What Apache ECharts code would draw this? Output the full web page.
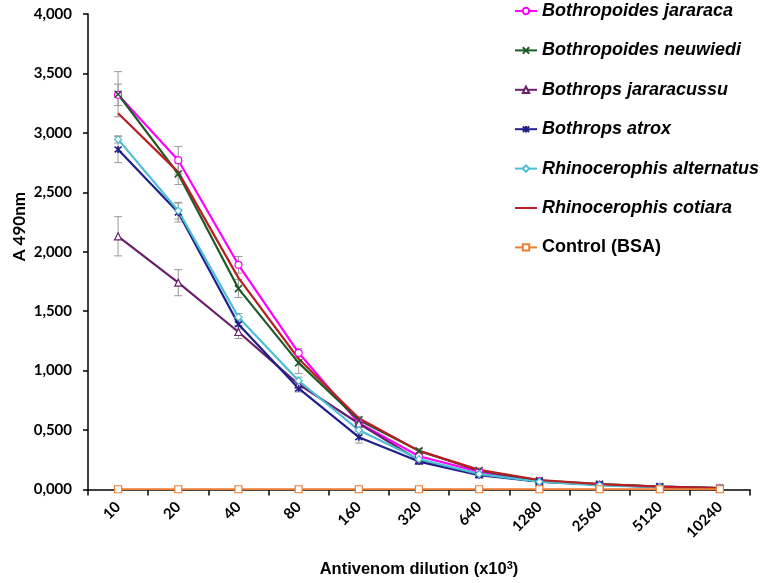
<!DOCTYPE html>
<html>
<head>
<meta charset="utf-8">
<script src="https://cdn.jsdelivr.net/npm/echarts@6/dist/echarts.min.js"></script>
<style>html,body{margin:0;padding:0;background:#fff}#c{width:762px;height:583px}</style>
</head>
<body>
<div id="c"></div>
<script>
const categories = ['10','20','40','80','160','320','640','1280','2560','5120','10240'];
const yTicks = [0, 0.5, 1, 1.5, 2, 2.5, 3, 3.5, 4];

const jararaca    = [3.320, 2.770, 1.890, 1.150, 0.560, 0.280, 0.150, 0.070, 0.040, 0.020, 0.010];
const neuwiedi    = [3.325, 2.655, 1.690, 1.065, 0.585, 0.325, 0.160, 0.075, 0.045, 0.025, 0.012];
const jararacussu = [2.130, 1.740, 1.325, 0.885, 0.555, 0.245, 0.130, 0.065, 0.040, 0.020, 0.010];
const atrox       = [2.860, 2.330, 1.390, 0.850, 0.440, 0.235, 0.120, 0.065, 0.040, 0.025, 0.012];
const alternatus  = [2.945, 2.345, 1.450, 0.915, 0.500, 0.255, 0.130, 0.065, 0.035, 0.020, 0.010];
const cotiara     = [3.165, 2.670, 1.780, 1.100, 0.600, 0.325, 0.165, 0.080, 0.045, 0.025, 0.012];
const control     = [0.002, 0.002, 0.002, 0.002, 0.002, 0.002, 0.002, 0.002, 0.002, 0.002, 0.002];

const errJararaca    = [0.090, 0.115, 0.070, 0.035, 0.020, 0.015, 0.010, 0.008, 0.005, 0.004, 0.003];
const errNeuwiedi    = [0.190, 0.090, 0.075, 0.090, 0.030, 0.020, 0.010, 0.008, 0.005, 0.004, 0.003];
const errJararacussu = [0.165, 0.110, 0.055, 0.030, 0.030, 0.015, 0.010, 0.008, 0.005, 0.004, 0.003];
const errAtrox       = [0.110, 0.080, 0.040, 0.030, 0.050, 0.020, 0.010, 0.008, 0.005, 0.004, 0.003];
const errAlternatus  = [0.030, 0.070, 0.030, 0.030, 0.030, 0.015, 0.010, 0.008, 0.005, 0.004, 0.003];

const names = ['Bothropoides jararaca','Bothropoides neuwiedi','Bothrops jararacussu','Bothrops atrox','Rhinocerophis alternatus','Rhinocerophis cotiara','Control (BSA)'];
const colors = ['#FF00FF','#1E5A28','#6A1F6E','#1F1F8C','#4DBFD3','#B81E22','#ED7D31'];

const X_PATH = 'path://M0,0L10,10M10,0L0,10';
const STAR_PATH = 'path://M0,0L10,10M10,0L0,10M5,-1L5,11';

function lineSeries(name, data, color, symbol, hollowPath) {
  return {
    name, type: 'line', data,
    symbol, symbolSize: 7,
    showSymbol: symbol !== 'none',
    lineStyle: { color, width: 2.2 },
    itemStyle: hollowPath ? { color: 'none', borderColor: color, borderWidth: 1.6 }
                          : { color: '#fff', borderColor: color, borderWidth: 1.2 },
    emphasis: { disabled: true },
    animation: false,
    z: 3
  };
}

const errPairs = [[jararaca, errJararaca],[neuwiedi, errNeuwiedi],[jararacussu, errJararacussu],[atrox, errAtrox],[alternatus, errAlternatus]];
const errData = [];
errPairs.forEach(([vals, errs]) => {
  vals.forEach((v, i) => { if (errs[i] != null) errData.push([i, v - errs[i], v + errs[i]]); });
});

const chart = echarts.init(document.getElementById('c'), null, { renderer: 'canvas' });
const tickFont = 'Lato, "Open Sans", sans-serif';
const arial = '"Liberation Sans", Arial, sans-serif';

const legendData = names.map((n, i) => {
  const d = { name: n };
  if (i === 5) d.itemStyle = { color: 'transparent', borderColor: 'transparent', borderWidth: 0 };
  if (i === 6) d.textStyle = { fontStyle: 'normal' };
  return d;
});

chart.setOption({
  animation: false,
  backgroundColor: '#fff',
  grid: { left: 88, right: 12, top: 14, bottom: 89, containLabel: false },
  legend: {
    data: legendData,
    orient: 'vertical',
    left: 514, top: 1, padding: 0,
    itemWidth: 22, itemHeight: 8, itemGap: 19.4,
    textStyle: { fontFamily: arial, fontSize: 18, fontWeight: 'bold', fontStyle: 'italic', color: '#000', lineHeight: 20 }
  },
  xAxis: {
    type: 'category',
    data: categories,
    boundaryGap: true,
    axisLine: { lineStyle: { color: '#000', width: 1.5 } },
    axisTick: { show: true, length: 6, lineStyle: { color: '#000', width: 1.5 } },
    axisLabel: { rotate: 45, margin: 15, fontFamily: tickFont, fontWeight: 'bold', fontSize: 15, color: '#000' },
    name: 'Antivenom dilution (x10{sup|3})',
    nameLocation: 'middle',
    nameGap: 71,
    nameTextStyle: {
      fontFamily: arial, fontWeight: 'bold', fontSize: 16.5, color: '#000',
      rich: { sup: { fontSize: 11, fontWeight: 'bold', verticalAlign: 'top', padding: [0,0,7,0], fontFamily: arial } }
    },
    splitLine: { show: false }
  },
  yAxis: {
    type: 'value',
    min: 0, max: 4, interval: 0.5,
    axisLine: { show: true, lineStyle: { color: '#000', width: 1.5 } },
    axisTick: { show: true, length: 5, lineStyle: { color: '#000', width: 1.5 } },
    axisLabel: { margin: 16, fontFamily: tickFont, fontWeight: 'bold', fontSize: 15, color: '#000',
      formatter: v => v.toFixed(3).replace('.', ',') },
    splitLine: { show: false }
  },
  graphic: [{
    type: 'text', left: 11, top: 192, rotation: Math.PI / 2,
    style: { text: 'A 490nm', fontFamily: tickFont, fontWeight: 'bold', fontSize: 17, fill: '#000' }
  }],
  series: [
    {
      type: 'custom', name: 'err', silent: true, z: 2,
      data: errData,
      encode: { x: 0, y: [1, 2] },
      renderItem: (params, api) => {
        const x = api.value(0);
        const lo = api.coord([x, api.value(1)]);
        const hi = api.coord([x, api.value(2)]);
        const w = 4;
        const st = { stroke: '#999', lineWidth: 1 };
        return { type: 'group', children: [
          { type: 'line', shape: { x1: lo[0], y1: lo[1], x2: hi[0], y2: hi[1] }, style: st },
          { type: 'line', shape: { x1: lo[0]-w, y1: lo[1], x2: lo[0]+w, y2: lo[1] }, style: st },
          { type: 'line', shape: { x1: hi[0]-w, y1: hi[1], x2: hi[0]+w, y2: hi[1] }, style: st }
        ]};
      }
    },
    lineSeries(names[0], jararaca, colors[0], 'circle', false),
    lineSeries(names[1], neuwiedi, colors[1], X_PATH, true),
    lineSeries(names[2], jararacussu, colors[2], 'triangle', false),
    lineSeries(names[3], atrox, colors[3], STAR_PATH, true),
    lineSeries(names[4], alternatus, colors[4], 'diamond', false),
    lineSeries(names[5], cotiara, colors[5], 'none', false),
    lineSeries(names[6], control, colors[6], 'rect', false)
  ]
});
</script>
</body>
</html>
